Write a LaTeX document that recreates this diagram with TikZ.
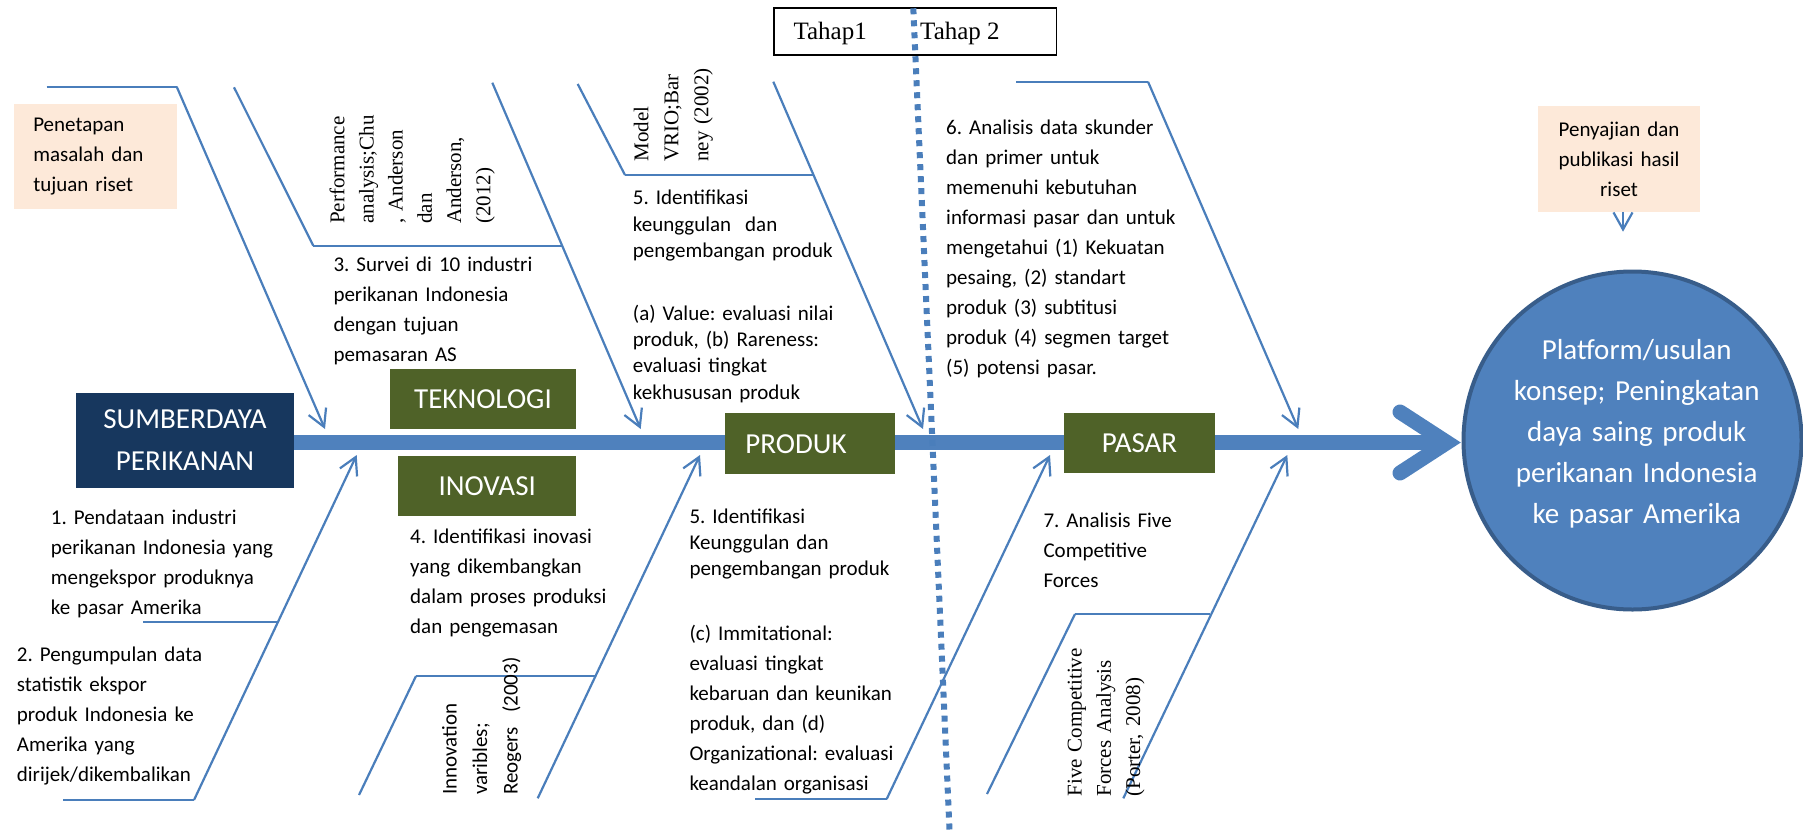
\documentclass[tikz,border=0pt]{standalone}
\usepackage{fontspec}
\setmainfont{Carlito}
\newfontfamily\citefont{Liberation Serif}
\usetikzlibrary{arrows.meta}
\frenchspacing

\definecolor{boneblue}{RGB}{74,126,187}
\definecolor{spineblue}{RGB}{79,129,189}
\definecolor{circleedge}{RGB}{56,93,138}
\definecolor{navy}{RGB}{23,55,94}
\definecolor{olive}{RGB}{79,98,40}
\definecolor{peach}{RGB}{253,233,217}

\begin{document}
\begin{tikzpicture}
		[x=1pt,y=-1pt,every node/.style={inner sep=0pt},
		bone/.style={draw=boneblue,line width=2.2pt},
		edge/.style={bone,-{Straight Barb[length=17pt,width=19pt]}},
		spine/.style={draw=spineblue,line width=15pt},
		note/.style={anchor=base west,align=left,text width=330pt,font=\fontsize{21}{30}\selectfont},
		cite/.style={anchor=base west,rotate=90,align=left,text width=220pt,font=\citefont\fontsize{21}{29.2}\selectfont},
		titlebox/.style={fill=olive,text=white,align=center,font=\fontsize{29}{42}\selectfont},
		peachbox/.style={fill=peach,font=\fontsize{21}{30}\selectfont}]
		\useasboundingbox (0,0) rectangle (1803,830);
		
		% spine and head
		\coordinate (tail) at (294,442.5);
		\coordinate (tip) at (1447,442.5);
		\coordinate (headup) at (1400,412);
		\coordinate (headdown) at (1400,473);
		\draw[spine] (tail) -- (tip);
		\draw[spine,line cap=round,line join=miter] (headup) -- (tip) -- (headdown);
		
		\node[titlebox,fill=navy,minimum width=218pt,minimum height=95.6pt] (sumber) at (185,440.5) {SUMBERDAYA\\PERIKANAN};
		\node[titlebox,minimum width=186pt,minimum height=60pt] (teknologi) at (483,399.3) {TEKNOLOGI};
		\node[titlebox,minimum width=177.7pt,minimum height=60pt] (inovasi) at (487.2,486) {INOVASI};
		\node[titlebox,minimum width=170pt,minimum height=60.7pt] (produk) at (810,443.7) {\hspace*{-28pt}PRODUK};
		\node[titlebox,minimum width=151pt,minimum height=59.4pt] (pasar) at (1139.5,443) {PASAR};
		
		\node[circle,fill=spineblue,draw=circleedge,line width=4pt,minimum size=338pt] (platform) at (1632.5,440.5) {};
		\node[anchor=base,align=center,text width=300pt,text=white,font=\fontsize{29}{41}\selectfont] (platformtext) at (1636.7,359) {Platform/usulan\\konsep; Peningkatan\\daya saing produk\\perikanan Indonesia\\ke pasar Amerika};
		
		\node[peachbox,minimum width=162.7pt,minimum height=105.3pt,text width=124pt,align=left] (penetapan) at (95.3,156.7) {Penetapan\\masalah dan\\tujuan riset};
		\node[peachbox,minimum width=162pt,minimum height=105.7pt,text width=162pt,align=center] (penyajian) at (1619,158.8) {Penyajian dan\\publikasi hasil\\riset};
		\coordinate (pubtip) at (1623,231.7);
		\draw[edge] (penyajian.south -| pubtip) -- (pubtip);
		
		% stages
		\node[draw,line width=1.5pt,minimum width=282.4pt,minimum height=46.7pt,anchor=north west] (tahap) at (773.3,7.3) {};
		\node[anchor=base west,font=\citefont\fontsize{25}{30}\selectfont] (tahap1) at (793.3,39.3) {Tahap1};
		\node[anchor=base west,font=\citefont\fontsize{25}{30}\selectfont] (tahap2) at (920,39.3) {Tahap 2};
		\coordinate (stagetop) at (913.3,8.3);
		\coordinate (stagebot) at (949.5,830);
		\draw[boneblue,line width=6pt,dash pattern=on 6pt off 6pt] (stagetop) -- (stagebot);
		
		% bones above the spine
		\coordinate (t1a) at (46.7,86.7);
		\coordinate (t1b) at (176.7,86.7);
		\coordinate (t1c) at (325,429);
		\coordinate (t2a) at (234,87.3);
		\coordinate (t2b) at (313.3,245.7);
		\coordinate (t2c) at (562,245.7);
		\coordinate (t3a) at (492.3,82.7);
		\coordinate (t3c) at (640.7,429);
		\coordinate (t4a) at (577.7,84);
		\coordinate (t4b) at (625,175);
		\coordinate (t4c) at (813.6,175);
		\coordinate (t5a) at (773.3,81.7);
		\coordinate (t5c) at (923,429);
		\coordinate (t6a) at (1016,81.7);
		\coordinate (t6b) at (1148,81.7);
		\coordinate (t6c) at (1298.3,429);
		
		% bones below the spine
		\coordinate (b1a) at (143.3,622.3);
		\coordinate (b1b) at (277,622.3);
		\coordinate (b2a) at (63.3,800);
		\coordinate (b2b) at (194,800);
		\coordinate (b2c) at (356.7,455);
		\coordinate (b3a) at (359,795);
		\coordinate (b3b) at (416,676);
		\coordinate (b3c) at (595,676);
		\coordinate (b4a) at (537.7,798.3);
		\coordinate (b4c) at (700,455);
		\coordinate (b5a) at (755,799);
		\coordinate (b5b) at (886.7,799);
		\coordinate (b5c) at (1050,455);
		\coordinate (b6a) at (987,794);
		\coordinate (b6b) at (1075,614);
		\coordinate (b6c) at (1210,614);
		\coordinate (b7a) at (1123.3,798.3);
		\coordinate (b7c) at (1287.3,455);
		
		\foreach \from/\to in {t1a/t1b,t2a/t2b,t2b/t2c,t4a/t4b,t4b/t4c,t6a/t6b,b1a/b1b,b2a/b2b,b3a/b3b,b3b/b3c,b5a/b5b,b6a/b6b,b6b/b6c}
		\draw[bone] (\from) -- (\to);
		\foreach \from/\to in {t1b/t1c,t3a/t3c,t5a/t5c,t6b/t6c,b2b/b2c,b4a/b4c,b5b/b5c,b7a/b7c}
		\draw[edge] (\from) -- (\to);
		
		% texts
		\node[note] (survei) at (333.3,271) {3. Survei di 10 industri\\perikanan Indonesia\\dengan tujuan\\pemasaran AS};
		\node[note,font=\fontsize{21}{26.3}\selectfont] (unggul) at (632.7,204.7) {5. Identifikasi\\keunggulan\ \ dan\\pengembangan produk\\[36.7pt](a) Value: evaluasi nilai\\produk, (b) Rareness:\\evaluasi tingkat\\kekhususan produk};
		\node[note] (analisis) at (946,134) {6. Analisis data skunder\\dan primer untuk\\memenuhi kebutuhan\\informasi pasar dan untuk\\mengetahui (1) Kekuatan\\pesaing, (2) standart\\produk (3) subtitusi\\produk (4) segmen target\\(5) potensi pasar.};
		\node[note] (pendataan) at (50.7,524) {1. Pendataan industri\\perikanan Indonesia yang\\mengekspor produknya\\ke pasar Amerika};
		\node[note] (pengumpulan) at (16.7,661.7) {2. Pengumpulan data\\statistik ekspor\\produk Indonesia ke\\Amerika yang\\dirijek/dikembalikan};
		\node[note] (inovasitext) at (410,543.3) {4. Identifikasi inovasi\\yang dikembangkan\\dalam proses produksi\\dan pengemasan};
		\node[note] (keunggulan) at (689.3,523.3) {5. Identifikasi\\[-4pt]Keunggulan dan\\[-4pt]pengembangan produk\\[35pt](c) Immitational:\\evaluasi tingkat\\kebaruan dan keunikan\\produk, dan (d)\\Organizational: evaluasi\\keandalan organisasi};
		\node[note] (fiveforces) at (1043.3,527.3) {7. Analisis Five\\Competitive\\Forces};
		
		% references
		\node[cite] (chu) at (344.3,224) {Performance\\analysis;Chu\\, Anderson\\dan\\Anderson,\\(2012)};
		\node[cite,font=\citefont\fontsize{21}{30}\selectfont] (barney) at (648.3,161.7) {Model\\VRIO;Bar\\ney (2002)};
		\node[cite,font=\fontsize{21}{30.5}\selectfont] (rogers) at (456.7,795) {Innovation\\varibles;\\Reogers\ \ (2003)};
		\node[cite] (porter) at (1081.7,796.7) {Five Competitive\\Forces Analysis\\(Porter, 2008)};
		\end{tikzpicture}
\end{document}
